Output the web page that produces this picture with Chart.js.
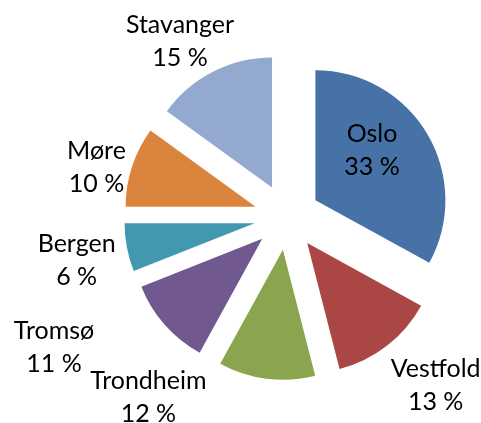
<!DOCTYPE html>
<html>
<head>
<meta charset="utf-8">
<script src="https://cdn.jsdelivr.net/npm/chart.js@4/dist/chart.umd.min.js"></script>
<style>
  html, body { margin: 0; padding: 0; background: #ffffff; }
  #wrap { width: 481px; height: 423px; }
</style>
</head>
<body>
<div id="wrap"><canvas id="c" width="481" height="423"></canvas></div>
<script>
// ---- data ----
const categories = ["Oslo", "Vestfold", "Trondheim", "Tromsø", "Bergen", "Møre", "Stavanger"];
const shares = [33, 13, 12, 11, 6, 10, 15];
const sliceColors = ["#4672A8", "#AA4644", "#89A54E", "#71588F", "#4198AF", "#DB843D", "#93A9CF"];

// label placement (angle shift from slice bisector in degrees, distance as fraction of radius)
const labelAngleShift = [-7.6, -3.8, 30.5, 12.3, -0.8, -3.3, -4.3];
const labelDistance = [0.832, 1.722, 1.744, 2.051, 1.652, 1.515, 1.584];

// Explode every slice outward along its bisector (uniform distance, no radius distortion)
const explodeSlices = {
  id: 'explodeSlices',
  beforeDatasetDraw(chart, args, opts) {
    const ctx = chart.ctx;
    const meta = args.meta;
    meta.data.forEach((arc) => {
      const p = arc.getProps(['startAngle', 'endAngle'], true);
      const mid = (p.startAngle + p.endAngle) / 2;
      ctx.save();
      ctx.translate(Math.cos(mid) * opts.distance, Math.sin(mid) * opts.distance);
      arc.draw(ctx, chart.chartArea);
      ctx.restore();
    });
    return false;
  }
};

const pieLabels = {
  id: 'pieLabels',
  afterDatasetsDraw(chart, args, opts) {
    const ctx = chart.ctx;
    const meta = chart.getDatasetMeta(0);
    const ds = chart.data.datasets[0];
    ctx.save();
    ctx.font = opts.font;
    ctx.fillStyle = opts.color;
    ctx.textAlign = 'center';
    ctx.textBaseline = 'alphabetic';
    meta.data.forEach((arc, i) => {
      const p = arc.getProps(['x', 'y', 'startAngle', 'endAngle', 'outerRadius'], true);
      const mid = (p.startAngle + p.endAngle) / 2 + labelAngleShift[i] * Math.PI / 180;
      const d = labelDistance[i] * p.outerRadius;
      const cx = p.x + Math.cos(mid) * d;
      const cy = p.y + Math.sin(mid) * d;
      const half = opts.lineGap / 2;
      ctx.fillText(chart.data.labels[i], cx, cy - half + opts.capHalf);
      ctx.fillText(ds.data[i] + ' %', cx, cy + half + opts.capHalf);
    });
    ctx.restore();
  }
};

new Chart(document.getElementById('c'), {
  type: 'pie',
  data: {
    labels: categories,
    datasets: [{
      data: shares,
      backgroundColor: sliceColors,
      borderWidth: 0,
      hoverOffset: 0
    }]
  },
  options: {
    responsive: false,
    animation: false,
    radius: 130,
    layout: { padding: { left: 93, right: 0, top: 11, bottom: 0 } },
    plugins: {
      legend: { display: false },
      tooltip: { enabled: false },
      explodeSlices: { distance: 33 },
      pieLabels: { font: '25px Lato', color: '#000000', lineGap: 33, capHalf: 8.8 }
    }
  },
  plugins: [explodeSlices, pieLabels]
});
</script>
</body>
</html>
